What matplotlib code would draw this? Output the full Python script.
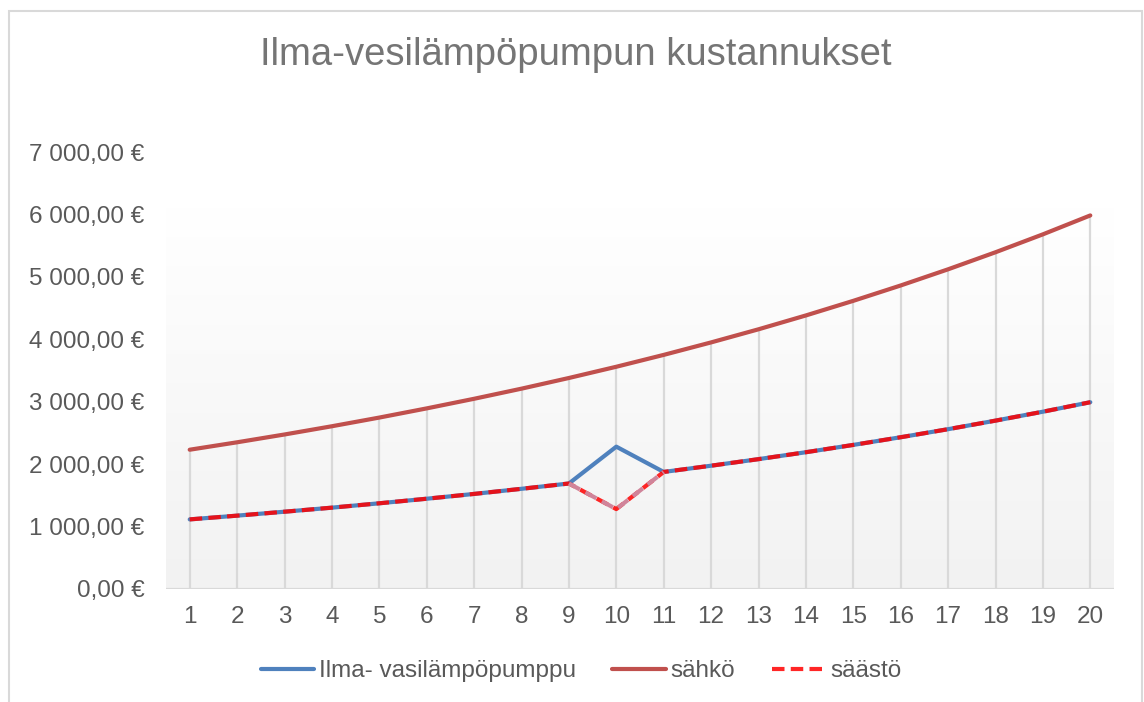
import matplotlib.pyplot as plt
import numpy as np

plt.rcParams['font.family'] = ['Liberation Sans', 'DejaVu Sans']

# values
vuodet = list(range(1, 21))
ilma = [1115, 1175, 1238, 1303, 1373, 1446, 1523, 1605, 1690, 2280,
        1875, 1975, 2080, 2191, 2308, 2431, 2560, 2697, 2840, 2992]
sahko = [2231, 2350, 2475, 2607, 2746, 2893, 3047, 3209, 3380, 3560,
         3750, 3950, 4160, 4382, 4616, 4862, 5121, 5394, 5681, 5984]
saasto = [1115, 1175, 1238, 1303, 1373, 1446, 1523, 1605, 1690, 1280,
          1875, 1975, 2080, 2191, 2308, 2431, 2560, 2697, 2840, 2992]
y_ticks = [0, 1000, 2000, 3000, 4000, 5000, 6000, 7000]
y_labels = ["0,00 €", "1 000,00 €", "2 000,00 €", "3 000,00 €",
            "4 000,00 €", "5 000,00 €", "6 000,00 €", "7 000,00 €"]

txt = '#595959'
fig = plt.figure(figsize=(11.44, 7.02), dpi=100)

# chart border
fig.add_artist(plt.Rectangle((9/1144, -0.01), 1133/1144, 1 - 11/702 + 0.01,
                             transform=fig.transFigure, fill=False,
                             edgecolor='#d9d9d9', linewidth=1.5))

ax = fig.add_axes([166/1144, 113/702, 948/1144, 437/702])
ax.set_xlim(0.5, 20.5)

# plot area gradient (white at top -> light gray at bottom)
grad = np.linspace(1, 0, 256).reshape(-1, 1)
cmap = plt.matplotlib.colors.LinearSegmentedColormap.from_list('g', ['#f2f2f2', '#ffffff'])
ax.imshow(grad, extent=[0.5, 20.5, 0, 6115], aspect='auto', cmap=cmap,
          vmin=0, vmax=1, zorder=0, origin='upper')
ax.set_ylim(0, 7000)

# drop lines
ax.vlines(vuodet, 0, sahko, color='#d9d9d9', linewidth=1.6, zorder=1)
ax.axhline(0, color='#d9d9d9', linewidth=1.6, zorder=1)

l1, = ax.plot(vuodet, ilma, color='#4f81bd', linewidth=3, zorder=3,
              solid_capstyle='round', label='Ilma- vasilämpöpumppu')
l2, = ax.plot(vuodet, sahko, color='#c0504d', linewidth=3, zorder=3,
              solid_capstyle='round', label='sähkö')
l3, = ax.plot(vuodet, saasto, color='#ff0000', linewidth=3, zorder=4,
              dashes=(3, 1.5), label='säästö', alpha=0.85)
# the dip segment looks faded in the reference
ax.plot(vuodet[8:11], saasto[8:11], color='#d0849a', linewidth=3, zorder=5,
        dashes=(3, 1.5))

for s in ax.spines.values():
    s.set_visible(False)
ax.set_xticks(vuodet)
ax.set_yticks(y_ticks)
ax.set_yticklabels(y_labels)
ax.tick_params(length=0, labelsize=17.5, labelcolor=txt)
ax.tick_params(axis='y', pad=15.5)
ax.tick_params(axis='x', pad=12)

fig.text(576/1144, 1 - 55/702, 'Ilma-vesilämpöpumpun kustannukset',
         ha='center', va='center', fontsize=27.5, color='#757575')

fig.legend(handles=[l1, l2, l3], loc='center', bbox_to_anchor=(581/1144, 1 - 671/702),
           ncol=3, frameon=False, fontsize=17.5, labelcolor=txt,
           handlelength=2.2, handletextpad=0.2, columnspacing=1.5)

fig.savefig('out.png', dpi=100)
